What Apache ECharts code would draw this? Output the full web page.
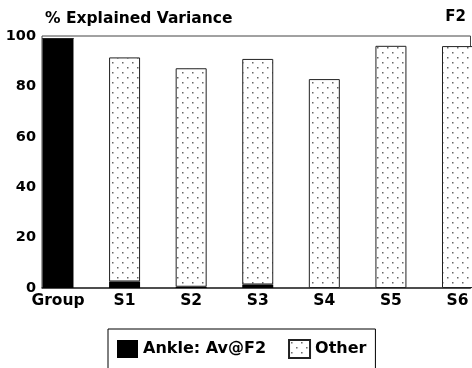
<!DOCTYPE html>
<html>
<head>
<meta charset="utf-8">
<script src="https://cdn.jsdelivr.net/npm/echarts@6/dist/echarts.min.js"></script>
<style>
html,body{margin:0;padding:0;background:#fff;}
#chart{width:472px;height:368px;}
</style>
</head>
<body>
<div id="chart"></div>
<script>
// ---- data ----
const categories = ["Group", "S1", "S2", "S3", "S4", "S5", "S6"];
const ankleValues = [99, 2.6, 0.5, 1.4, 0, 0, 0];
const otherValues = [0, 88.9, 86.7, 89.5, 82.9, 96.1, 96.0];
const yTicks = [0, 20, 40, 60, 80, 100];
const seriesNames = ["Ankle: Av@F2", "Other"];
const titleText = "% Explained Variance";
const cornerText = "F2";

// ---- pattern ----
const pc = document.createElement('canvas');
pc.width = 10; pc.height = 10;
const ctx = pc.getContext('2d');
ctx.fillStyle = '#fff';
ctx.fillRect(0, 0, 10, 10);
ctx.fillStyle = '#666';
ctx.fillRect(2, 2, 1.5, 1.5);
ctx.fillRect(7, 7, 1.5, 1.5);

const FONT = 'DejaVu Sans';
const xIdx = categories.map((c, i) => i);

const chart = echarts.init(document.getElementById('chart'), null, {renderer: 'canvas'});
chart.setOption({
  animation: false,
  backgroundColor: '#fff',
  title: [
    {text: titleText, left: 40, top: 6, textStyle: {fontFamily: FONT, fontWeight: 'bold', fontSize: 15.5, color: '#000'}},
    {text: cornerText, right: 1, top: 5, textStyle: {fontFamily: FONT, fontWeight: 'bold', fontSize: 15, color: '#000'}}
  ],
  grid: {left: 42, right: 1.5, top: 36, bottom: 80, show: true, borderColor: '#444', borderWidth: 1, backgroundColor: 'transparent'},
  legend: {
    left: 108, top: 329,
    padding: [10, 9, 14, 9],
    itemWidth: 21, itemHeight: 18, itemGap: 22,
    borderColor: '#000', borderWidth: 1,
    selectedMode: false,
    icon: 'rect',
    textStyle: {fontFamily: FONT, fontWeight: 'bold', fontSize: 16, color: '#000'},
    data: seriesNames
  },
  xAxis: {
    type: 'value', min: -0.24, max: 6.195,
    splitLine: {show: false},
    axisLine: {show: true, onZero: false, lineStyle: {color: '#333', width: 1.5}},
    axisTick: {show: false},
    axisLabel: {
      customValues: xIdx,
      margin: 5,
      formatter: v => categories[Math.round(v)] || '',
      fontFamily: FONT, fontWeight: 'bold', fontSize: 15.5, color: '#000'
    }
  },
  yAxis: {
    type: 'value', min: 0, max: 100, interval: 20,
    splitLine: {show: false},
    axisLine: {show: false},
    axisTick: {show: false},
    axisLabel: {margin: 6, fontFamily: FONT, fontWeight: 'bold', fontSize: 14.5, color: '#000',
      formatter: v => yTicks.includes(v) ? String(v) : ''}
  },
  series: [
    {
      name: seriesNames[0], type: 'bar', stack: 'a', barWidth: 31,
      encode: {x: 1, y: 0},
      itemStyle: {color: '#000', borderColor: '#000', borderWidth: 0},
      data: ankleValues.map((v, i) => [v, xIdx[i]])
    },
    {
      name: seriesNames[1], type: 'bar', stack: 'a', barWidth: 31,
      encode: {x: 1, y: 0},
      itemStyle: {color: {image: pc, repeat: 'repeat'}, borderColor: '#222', borderWidth: 1},
      data: otherValues.map((v, i) => [v, xIdx[i]])
    }
  ]
});
</script>
</body>
</html>
